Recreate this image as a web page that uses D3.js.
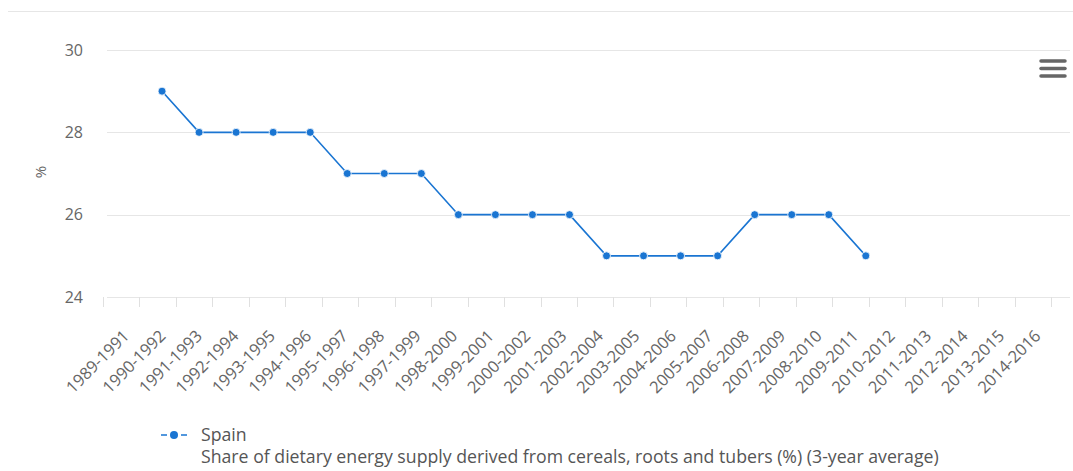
<!DOCTYPE html>
<html>
<head>
<meta charset="utf-8">
<script src="https://cdn.jsdelivr.net/npm/d3@7"></script>
<style>
  body { margin: 0; background: #fff; }
  svg { display: block; font-family: "Open Sans", "Noto Sans", sans-serif; }
</style>
</head>
<body>
<svg id="vis" width="1073" height="471"></svg>
<script>
const categories = ["1989-1991","1990-1992","1991-1993","1992-1994","1993-1995","1994-1996",
  "1995-1997","1996-1998","1997-1999","1998-2000","1999-2001","2000-2002","2001-2003",
  "2002-2004","2003-2005","2004-2006","2005-2007","2006-2008","2007-2009","2008-2010",
  "2009-2011","2010-2012","2011-2013","2012-2014","2013-2015","2014-2016"];
const spain = [null,29,28,28,28,28,27,27,27,26,26,26,26,25,25,25,25,26,26,26,25,null,null,null,null,null];
const yTicks = [24, 26, 28, 30];
const seriesName = "Spain";
const indicator = "Share of dietary energy supply derived from cereals, roots and tubers (%) (3-year average)";

let svg = d3.select("#vis");
let blue = "#1a75d2";

// top border
svg.append("line").attr("x1", 8).attr("x2", 1073).attr("y1", 11.5).attr("y2", 11.5)
  .attr("stroke", "#e6e6e6");

let y = d3.scaleLinear().domain([24, 30]).range([297, 50]);
let xBand = d3.scaleBand().domain(categories).range([103, 1051]);
let xPt = d3.scalePoint().domain(categories).range([125, 1051]);

// grid
svg.append("g").selectAll("line").data(yTicks).enter().append("line")
  .attr("x1", 107).attr("x2", 1070)
  .attr("y1", d => Math.round(y(d)) + 0.5).attr("y2", d => Math.round(y(d)) + 0.5)
  .attr("stroke", "#e6e6e6");

// y labels
svg.append("g").selectAll("text").data(yTicks).enter().append("text")
  .attr("x", 83).attr("y", d => y(d)).attr("dy", "0.35em")
  .attr("text-anchor", "end").attr("fill", "#666").style("font-size", "16px")
  .text(d => d);

svg.append("text").attr("transform", "translate(46,172) rotate(-90)")
  .attr("text-anchor", "middle").attr("fill", "#666").style("font-size", "15px").text("%");

// x axis ticks
let tickPos = categories.map(c => xBand(c)).concat([xBand.range()[1]]);
svg.append("g").selectAll("line").data(tickPos).enter().append("line")
  .attr("x1", d => Math.round(d) + 0.5).attr("x2", d => Math.round(d) + 0.5)
  .attr("y1", 297).attr("y2", 307).attr("stroke", "#e0e0e0");

svg.append("g").selectAll("text").data(categories).enter().append("text")
  .attr("transform", d => `translate(${xBand(d) + xBand.bandwidth() / 2 + 9},${337}) rotate(-45)`)
  .attr("text-anchor", "end").attr("fill", "#666").style("font-size", "16.5px")
  .text(d => d);

// series
let pts = categories.map((c, i) => ({c: c, v: spain[i]})).filter(d => d.v != null);
let line = d3.line().x(d => xPt(d.c)).y(d => y(d.v));
svg.append("path").datum(pts).attr("d", line)
  .attr("fill", "none").attr("stroke", blue).attr("stroke-width", 1.6);
svg.append("g").selectAll("circle").data(pts).enter().append("circle")
  .attr("cx", d => xPt(d.c)).attr("cy", d => y(d.v)).attr("r", 4)
  .attr("fill", blue).attr("stroke", "#fff").attr("stroke-width", 0.8);

// menu icon
svg.append("g").selectAll("line").data([61, 68.5, 76]).enter().append("line")
  .attr("x1", 1041).attr("x2", 1065).attr("y1", d => d).attr("y2", d => d)
  .attr("stroke", "#666").attr("stroke-width", 3.5).attr("stroke-linecap", "round");

// legend
let lg = svg.append("g");
lg.append("line").attr("x1", 161).attr("x2", 187).attr("y1", 435).attr("y2", 435)
  .attr("stroke", blue).attr("stroke-width", 1.6).attr("stroke-dasharray", "6,14,6");
lg.append("circle").attr("cx", 174).attr("cy", 435).attr("r", 4).attr("fill", blue);
lg.append("text").attr("x", 201).attr("y", 435).attr("dy", "0.35em")
  .attr("fill", "#555").style("font-size", "17.7px").text(seriesName);
lg.append("text").attr("x", 201).attr("y", 457).attr("dy", "0.35em")
  .attr("fill", "#555").style("font-size", "17.7px").text(indicator);
</script>
</body>
</html>
